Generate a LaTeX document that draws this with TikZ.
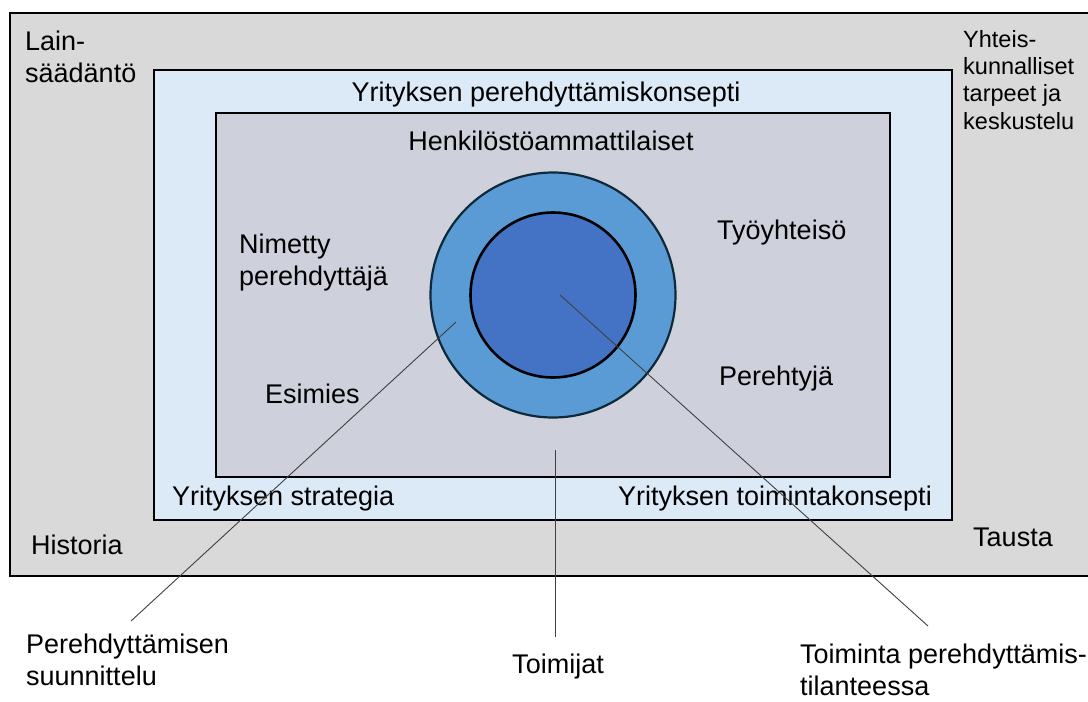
\documentclass[tikz,border=0pt]{standalone}
\usepackage{fontspec}
\setmainfont{Liberation Sans}
\definecolor{bggray}{HTML}{D9D9D9}
\definecolor{paleblue}{HTML}{DCE9F6}
\definecolor{slate}{HTML}{CED1DB}
\definecolor{ringblue}{HTML}{5B9BD5}
\definecolor{coreblue}{HTML}{4472C4}
\definecolor{ringedge}{HTML}{0E2A3A}
\definecolor{leader}{HTML}{404040}
\begin{document}
\begin{tikzpicture}[x=1pt,y=-1pt,
  frame/.style={draw=black, line width=2.6pt},
  lbl/.style={inner sep=0pt, font=\fontsize{27}{32}\selectfont, align=left},
  smalllbl/.style={inner sep=0pt, font=\fontsize{23.5}{27.3}\selectfont, align=left},
  leaderline/.style={draw=leader, line width=0.9pt}]
\useasboundingbox (0,0) rectangle (1088,702);
\clip (0,0) rectangle (1088,702);

% nested frames
\path[frame, fill=bggray] (10,13) rectangle (1100,576);
\path[frame, fill=paleblue] (154,70) rectangle (952,520);
\path[frame, fill=slate] (216,113) rectangle (890,477);

% central rings
\node[circle, draw=ringedge, line width=2.2pt, fill=ringblue, minimum size=245pt, inner sep=0pt] (ring) at (553,295) {};
\node[circle, draw=black, line width=2.6pt, fill=coreblue, minimum size=165pt, inner sep=0pt] (core) at (553,295) {};

% labels in the background frame (multi-line nodes sit on their last baseline)
\node[lbl, anchor=base west] (lain) at (25,82) {Lain-\\säädäntö};
\node[smalllbl, anchor=base west] (yht) at (963,129) {Yhteis-\\kunnalliset\\tarpeet ja\\keskustelu};
\node[lbl, anchor=base west] (hist) at (31,554) {Historia};
\node[lbl, anchor=base west] (taus) at (973,546) {Tausta};

% labels in the company frame
\node[lbl, anchor=base] (konsepti) at (546,101) {Yrityksen perehdyttämiskonsepti};
\node[lbl, anchor=base west] (strat) at (172,505) {Yrityksen strategia};
\node[lbl, anchor=base east] (toim) at (932,505) {Yrityksen toimintakonsepti};

% labels in the actors frame
\node[lbl, anchor=base] (henk) at (551,150) {Henkilöstöammattilaiset};
\node[lbl, anchor=base west] (nim) at (239,285) {Nimetty\\perehdyttäjä};
\node[lbl, anchor=base west] (esim) at (265,403) {Esimies};
\node[lbl, anchor=base west] (tyo) at (717,239) {Työyhteisö};
\node[lbl, anchor=base west] (pere) at (719,385) {Perehtyjä};

% captions below
\node[lbl, anchor=base west] (suun) at (26,685) {Perehdyttämisen\\suunnittelu};
\node[lbl, anchor=base] (toimijat) at (558,673) {Toimijat};
\node[lbl, anchor=base west] (tilanne) at (800,695) {Toiminta perehdyttämis-\\tilanteessa};

% leader lines
\coordinate (pRing) at (456,322);
\coordinate (pCore) at (560,295);
\coordinate (pActors) at (555,450);
\coordinate (eSuun) at (131,621);
\coordinate (eToimijat) at (555,637);
\coordinate (eTilanne) at (928,626);
\path[leaderline] (pRing) -- (eSuun);
\path[leaderline] (pActors) -- (eToimijat);
\path[leaderline] (pCore) -- (eTilanne);
\end{tikzpicture}
\end{document}
